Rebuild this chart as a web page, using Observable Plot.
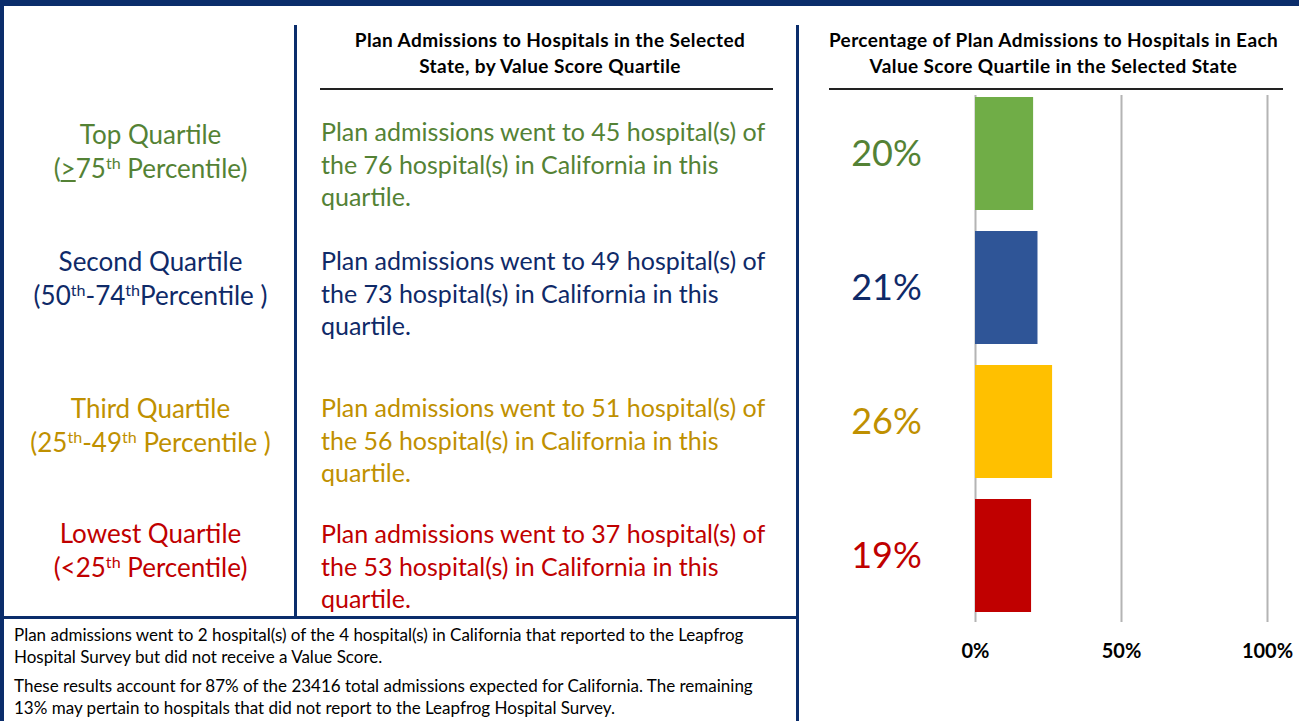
<!DOCTYPE html>
<html>
<head>
<meta charset="utf-8">
<script src="https://cdn.jsdelivr.net/npm/d3@7"></script>
<script src="https://cdn.jsdelivr.net/npm/@observablehq/plot@0.6"></script>
<style>
  html, body { margin: 0; padding: 0; background: #fff; }
  #page { position: relative; width: 1299px; height: 721px; overflow: hidden; font-family: Lato, "Open Sans", sans-serif; background: #fff; }
  .abs { position: absolute; }
  .line { position: absolute; background: #0b2d6b; }
  .hdr { position: absolute; font-weight: bold; font-size: 19px; letter-spacing: 0.4px; line-height: 26px; text-align: center; color: #000; white-space: nowrap; }
  .qname { position: absolute; left: 5px; width: 291px; text-align: center; font-size: 26px; line-height: 34px; white-space: nowrap; }
  .qtext { position: absolute; left: 321px; width: 470px; font-size: 25px; line-height: 32.5px; white-space: nowrap; }
  .foot { position: absolute; left: 14px; width: 780px; font-size: 17px; line-height: 22px; color: #000; white-space: nowrap; }
  sup { font-size: 0.62em; vertical-align: 0.55em; line-height: 0; }
</style>
</head>
<body>
<div id="page"></div>
<script>
// ---- data ----
const quartiles = ["Top Quartile", "Second Quartile", "Third Quartile", "Lowest Quartile"];
const percentileRanges = [
  '(<u>&gt;</u>75<sup>th</sup> Percentile)',
  '(50<sup>th</sup>-74<sup>th</sup>Percentile )',
  '(25<sup>th</sup>-49<sup>th</sup> Percentile )',
  '(&lt;25<sup>th</sup> Percentile)'
];
const hospitalsUsed = [45, 49, 51, 37];
const hospitalsInQuartile = [76, 73, 56, 53];
const stateName = "California";
const percentValues = [19.9, 21.4, 26.4, 19.2];
const percentLabels = ["20%", "21%", "26%", "19%"];
const barColors = ["#70ad47", "#2f5597", "#ffc000", "#c00000"];
const textColors = ["#548235", "#0f2a68", "#bf9000", "#c00000"];
const xTicks = [0, 50, 100];
const noScoreUsed = 2, noScoreTotal = 4;
const accountPct = 87, totalAdmissions = 23416, remainingPct = 13;

// ---- layout (styling only) ----
const nameTops = [117, 244, 391, 516];
const textTops = [115, 244, 391, 517];

const page = document.getElementById("page");
function add(cls, style, html) {
  const d = document.createElement("div");
  d.className = cls;
  Object.assign(d.style, style);
  if (html != null) d.innerHTML = html;
  page.appendChild(d);
  return d;
}

// frame lines
add("line", {left: "0px", top: "0px", width: "1299px", height: "6px"});
add("line", {left: "0px", top: "0px", width: "4px", height: "721px"});
add("line", {left: "294px", top: "25px", width: "3px", height: "593px"});
add("line", {left: "796px", top: "25px", width: "3px", height: "696px"});
add("line", {left: "4px", top: "616px", width: "794px", height: "3px"});
// header underline rules
add("abs", {left: "320px", top: "88px", width: "453px", height: "1.5px", background: "#222"});
add("abs", {left: "829px", top: "88px", width: "454px", height: "1.5px", background: "#222"});

// headers
add("hdr", {left: "320px", top: "27px", width: "460px"}, "Plan Admissions to Hospitals in the Selected<br>State, by Value Score Quartile");
add("hdr", {left: "808px", top: "27px", width: "491px"}, "Percentage of Plan Admissions to Hospitals in Each<br>Value Score Quartile in the Selected State");

// rows
quartiles.forEach((q, i) => {
  add("qname", {top: nameTops[i] + "px", color: textColors[i]}, q + "<br>" + percentileRanges[i]);
  add("qtext", {top: textTops[i] + "px", color: textColors[i]},
    `Plan admissions went to ${hospitalsUsed[i]} hospital(s) of<br>the ${hospitalsInQuartile[i]} hospital(s) in ${stateName} in this<br>quartile.`);
});

// footer
add("foot", {top: "624px"}, `Plan admissions went to ${noScoreUsed} hospital(s) of the ${noScoreTotal} hospital(s) in ${stateName} that reported to the Leapfrog<br>Hospital Survey but did not receive a Value Score.`);
add("foot", {top: "675px"}, `These results account for ${accountPct}% of the ${totalAdmissions} total admissions expected for ${stateName}. The remaining<br>${remainingPct}% may pertain to hospitals that did not report to the Leapfrog Hospital Survey.`);

// ---- bar chart ----
const rows = quartiles.map((q, i) => ({q, value: percentValues[i], label: percentLabels[i], bar: barColors[i], txt: textColors[i]}));

const chart = Plot.plot({
  width: 479,
  height: 680,
  marginTop: 86,
  marginBottom: 58,
  marginLeft: 155,
  marginRight: 32,
  style: {fontFamily: "Lato, 'Open Sans', sans-serif", background: "transparent"},
  x: {domain: [0, 100], ticks: xTicks, tickFormat: d => d + "%", tickSize: 0, tickPadding: 22, label: null},
  y: {domain: quartiles, paddingInner: 0.157, paddingOuter: 0.0785, axis: null},
  marks: [
    Plot.ruleX(xTicks, {stroke: "#b4b4b4", strokeWidth: 2, insetTop: 9}),
    Plot.barX(rows, {x: "value", y: "q", fill: "bar"}),
    Plot.text(rows, {x: () => 0, y: "q", text: "label", fill: "txt", dx: -89, dy: 0, fontSize: 36, textAnchor: "middle"}),
    Plot.axisX({ticks: xTicks, tickFormat: d => d + "%", tickSize: 0, tickPadding: 21, fontSize: 20, fontWeight: "bold", fill: "#000", label: null})
  ]
});
chart.style.position = "absolute";
chart.style.left = "820px";
chart.style.top = "0px";
page.appendChild(chart);
</script>
</body>
</html>
